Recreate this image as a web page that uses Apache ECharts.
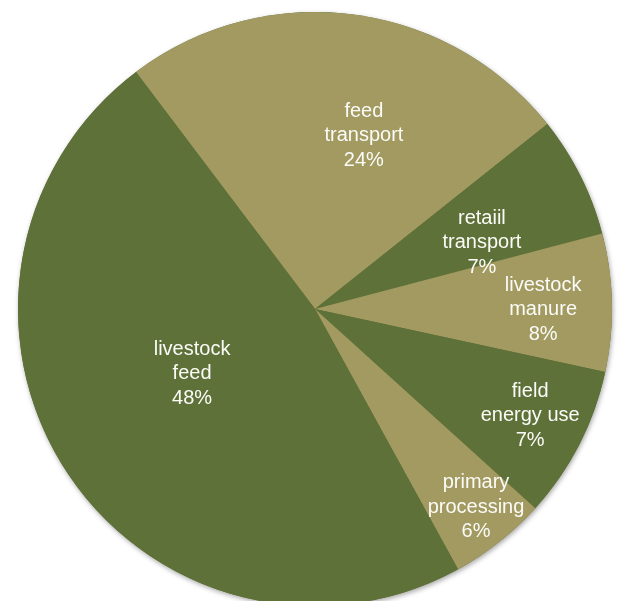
<!DOCTYPE html>
<html>
<head>
<meta charset="utf-8">
<style>
  html, body { margin: 0; padding: 0; background: #ffffff; }
  #chart { width: 618px; height: 601px; }
</style>
<script src="https://cdn.jsdelivr.net/npm/echarts@6/dist/echarts.min.js"></script>
</head>
<body>
<div id="chart"></div>
<script>
// Categories (label text as shown, with line breaks)
var categories = [
  'feed\ntransport',
  'retaiil\ntransport',
  'livestock\nmanure',
  'field\nenergy use',
  'primary\nprocessing',
  'livestock\nfeed'
];
// Share of each slice (percent)
var values = [24.6, 6.6, 7.5, 8.3, 5.3, 47.7];
// Percent text printed on each slice
var percentLabels = ['24%', '7%', '8%', '7%', '6%', '48%'];

// Styling
var GREEN = '#5e7138';
var KHAKI = '#a39a62';
var sliceColors = [KHAKI, GREEN, KHAKI, GREEN, KHAKI, GREEN];
// Label placement: angle clockwise from 12 o'clock (deg), radius fraction
var labelAngles = [15.6, 67.8, 89.7, 116.0, 140.6, 242.9];
var labelRadii  = [0.612, 0.607, 0.768, 0.806, 0.854, 0.465];
var LABEL_DY = 2;

var CX = 315, CY = 309, R = 297;

var chart = echarts.init(document.getElementById('chart'), null, { renderer: 'canvas' });

var pieData = categories.map(function (c, i) {
  return {
    name: c,
    value: values[i],
    itemStyle: { color: sliceColors[i] }
  };
});

var option = {
  backgroundColor: '#ffffff',
  animation: false,
  series: [
    {
      // soft drop shadow under the whole pie (decoration only)
      type: 'pie',
      silent: true,
      z: 1,
      center: [CX, CY],
      radius: [0, R],
      label: { show: false },
      labelLine: { show: false },
      data: [{ value: 1, itemStyle: { color: GREEN, shadowBlur: 5, shadowOffsetX: 1, shadowOffsetY: 2, shadowColor: 'rgba(0,0,0,0.35)' } }]
    },
    {
      type: 'pie',
      z: 2,
      center: [CX, CY],
      radius: [0, R],
      startAngle: 127.07,
      clockwise: true,
      avoidLabelOverlap: false,
      itemStyle: { borderWidth: 0 },
      label: {
        show: true,
        position: 'inside',
        color: '#fbfbf7',
        fontFamily: 'Liberation Sans, Arial, Helvetica, sans-serif',
        fontSize: 20,
        lineHeight: 24.5,
        align: 'center',
        verticalAlign: 'middle',
        formatter: function (p) {
          return p.name + '\n' + percentLabels[p.dataIndex];
        }
      },
      labelLine: { show: false },
      labelLayout: function (params) {
        var i = params.dataIndex;
        var a = labelAngles[i] * Math.PI / 180;
        var r = labelRadii[i] * R;
        return {
          x: CX + r * Math.sin(a),
          y: CY - r * Math.cos(a) + LABEL_DY,
          align: 'center',
          verticalAlign: 'middle'
        };
      },
      emphasis: { disabled: true },
      data: pieData
    }
  ]
};

chart.setOption(option);
</script>
</body>
</html>
